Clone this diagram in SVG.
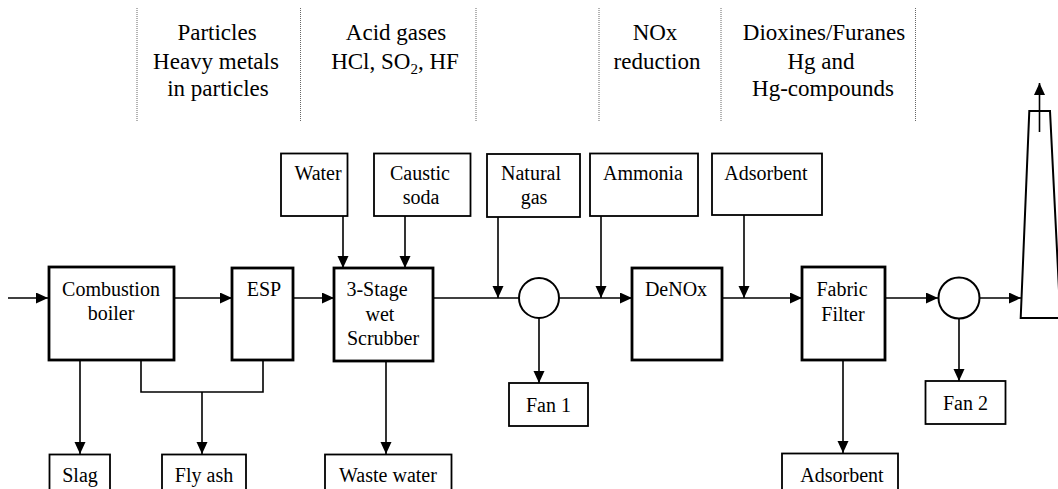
<svg xmlns="http://www.w3.org/2000/svg" width="1058" height="489" viewBox="0 0 1058 489">
<style>
  text { font-family: "Liberation Serif", "DejaVu Serif", "Tinos", "Times New Roman", serif; fill: #000; }
  .hdr { font-size: 23px; text-anchor: middle; }
  .lbl { font-size: 20px; text-anchor: middle; }
  .proc { fill: #fff; stroke: #000; stroke-width: 2.8; }
  .box { fill: #fff; stroke: #000; stroke-width: 1.8; }
  .fan { fill: #fff; stroke: #000; stroke-width: 2; }
  .con { fill: none; stroke: #000; stroke-width: 1.6; }
  .arr { fill: none; stroke: #000; stroke-width: 1.6; marker-end: url(#ah); }
  .sep { stroke: #666; stroke-width: 1; stroke-dasharray: 1 1; }
</style>
<defs>
  <marker id="ah" markerUnits="userSpaceOnUse" markerWidth="13" markerHeight="12" refX="12" refY="5.5" orient="auto">
    <path d="M0,0 L12,5.5 L0,11 z" fill="#000"/>
  </marker>
</defs>
<rect width="1058" height="489" fill="#fff"/>

<g id="header" font-family="Liberation Serif, DejaVu Serif, serif">
  <line class="sep" x1="137" y1="8" x2="137" y2="121"/>
  <line class="sep" x1="300.5" y1="8" x2="300.5" y2="121"/>
  <line class="sep" x1="476" y1="8" x2="476" y2="121"/>
  <line class="sep" x1="599" y1="8" x2="599" y2="121"/>
  <line class="sep" x1="721" y1="8" x2="721" y2="121"/>
  <line class="sep" x1="915.5" y1="8" x2="915.5" y2="121"/>
  <text class="hdr" x="217" y="40">Particles</text>
  <text class="hdr" x="216" y="69">Heavy metals</text>
  <text class="hdr" x="218" y="96">in particles</text>
  <text class="hdr" x="396" y="40">Acid gases</text>
  <text class="hdr" x="395" y="69">HCl, SO<tspan font-size="15" dy="5">2</tspan><tspan dy="-5">, HF</tspan></text>
  <text class="hdr" x="655" y="40">NOx</text>
  <text class="hdr" x="657" y="69">reduction</text>
  <text class="hdr" x="824" y="40">Dioxines/Furanes</text>
  <text class="hdr" x="821" y="69">Hg and</text>
  <text class="hdr" x="823" y="96">Hg-compounds</text>
</g>

<g id="connectors">
  <line class="arr" x1="8" y1="298" x2="48" y2="298"/>
  <line class="arr" x1="174" y1="298" x2="232" y2="298"/>
  <line class="arr" x1="293" y1="298" x2="334" y2="298"/>
  <line class="con" x1="433" y1="298" x2="519" y2="298"/>
  <line class="arr" x1="559" y1="298" x2="632" y2="298"/>
  <line class="arr" x1="722" y1="298" x2="802" y2="298"/>
  <line class="arr" x1="885" y1="298" x2="938" y2="298"/>
  <line class="arr" x1="979" y1="298" x2="1021" y2="298"/>
  <line class="arr" x1="343" y1="216" x2="343" y2="268"/>
  <line class="arr" x1="405" y1="216" x2="405" y2="268"/>
  <line class="arr" x1="498" y1="217" x2="498" y2="298"/>
  <line class="arr" x1="601" y1="216" x2="601" y2="298"/>
  <line class="arr" x1="744" y1="215" x2="744" y2="298"/>
  <line class="arr" x1="80" y1="360" x2="80" y2="454"/>
  <polyline class="con" points="141,360 141,392 263,392 263,360"/>
  <line class="arr" x1="202" y1="392" x2="202" y2="454"/>
  <line class="arr" x1="386" y1="361" x2="386" y2="454"/>
  <line class="arr" x1="539" y1="318" x2="539" y2="383"/>
  <line class="arr" x1="843" y1="360" x2="843" y2="453"/>
  <line class="arr" x1="959" y1="318" x2="959" y2="381"/>
  <line class="arr" x1="1039.5" y1="132" x2="1039.5" y2="83"/>
</g>

<g id="combustion-boiler">
  <rect class="proc" x="49" y="267" width="125" height="93"/>
  <text class="lbl" x="111" y="296">Combustion</text>
  <text class="lbl" x="111" y="320">boiler</text>
</g>
<g id="esp">
  <rect class="proc" x="232" y="268" width="61" height="92"/>
  <text class="lbl" x="264" y="296">ESP</text>
</g>
<g id="scrubber">
  <rect class="proc" x="334" y="268" width="99" height="93"/>
  <text class="lbl" x="377" y="296">3-Stage</text>
  <text class="lbl" x="380" y="321">wet</text>
  <text class="lbl" x="383" y="345">Scrubber</text>
</g>
<g id="denox">
  <rect class="proc" x="632" y="268" width="90" height="92"/>
  <text class="lbl" x="676" y="296">DeNOx</text>
</g>
<g id="fabric-filter">
  <rect class="proc" x="802" y="267" width="83" height="93"/>
  <text class="lbl" x="842" y="296">Fabric</text>
  <text class="lbl" x="843" y="321">Filter</text>
</g>

<g id="water">
  <rect class="box" x="281" y="153.5" width="66.5" height="62.5"/>
  <text class="lbl" x="318" y="180">Water</text>
</g>
<g id="caustic-soda">
  <rect class="box" x="374" y="153.5" width="96.5" height="62.5"/>
  <text class="lbl" x="420" y="180">Caustic</text>
  <text class="lbl" x="421" y="204">soda</text>
</g>
<g id="natural-gas">
  <rect class="box" x="487" y="154" width="93" height="63"/>
  <text class="lbl" x="531" y="180">Natural</text>
  <text class="lbl" x="534" y="204">gas</text>
</g>
<g id="ammonia">
  <rect class="box" x="590" y="153.5" width="108" height="62.5"/>
  <text class="lbl" x="643" y="180">Ammonia</text>
</g>
<g id="adsorbent-in">
  <rect class="box" x="712" y="153.5" width="110" height="61.5"/>
  <text class="lbl" x="766" y="180">Adsorbent</text>
</g>

<g id="fan1-node">
  <circle class="fan" cx="539" cy="298" r="20"/>
</g>
<g id="fan2-node">
  <circle class="fan" cx="959" cy="298" r="20.5"/>
</g>
<g id="fan1">
  <rect class="box" x="509" y="383" width="79" height="43"/>
  <text class="lbl" x="548.5" y="412">Fan 1</text>
</g>
<g id="fan2">
  <rect class="box" x="925.5" y="381" width="80" height="43"/>
  <text class="lbl" x="965.5" y="410">Fan 2</text>
</g>

<g id="slag">
  <rect class="box" x="49.5" y="454.5" width="60.5" height="45"/>
  <text class="lbl" x="80" y="482">Slag</text>
</g>
<g id="fly-ash">
  <rect class="box" x="162" y="454.5" width="84" height="45"/>
  <text class="lbl" x="204" y="482">Fly ash</text>
</g>
<g id="waste-water">
  <rect class="box" x="325" y="454.5" width="126.5" height="45"/>
  <text class="lbl" x="388" y="482">Waste water</text>
</g>
<g id="adsorbent-out">
  <rect class="box" x="782" y="453.5" width="116" height="45"/>
  <text class="lbl" x="842" y="482">Adsorbent</text>
</g>

<g id="stack">
  <polyline class="con" style="stroke-width:2" points="1061,318 1020.7,318 1029.3,111 1050,111 1061,330"/>
</g>
</svg>
